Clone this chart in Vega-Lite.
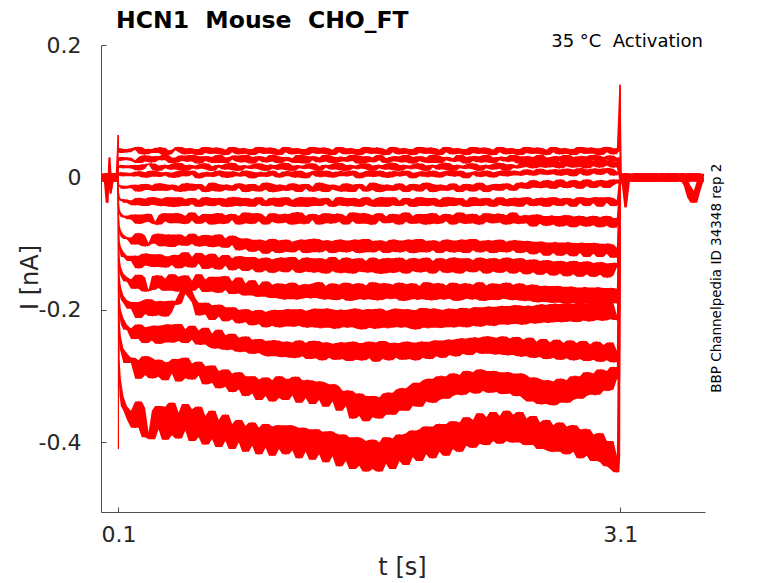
{
  "$schema": "https://vega.github.io/schema/vega-lite/v6.json",
  "width": 604,
  "height": 467,
  "autosize": {"type": "none"},
  "padding": {"left": 101, "top": 45, "right": 73, "bottom": 71},
  "background": "white",
  "config": {"view": {"stroke": null}, "font": "DejaVu Sans"},
  "datasets": {
    "traces": [
        {"t":0,"a":3,"b":-4,"c":2,"d":-2,"e":5,"f":-5,"g":1,"h":-3,"i":4,"j":-1,"k":2,"l":-6,"m":3,"n":0},
        {"t":0.012,"a":-5,"b":3,"c":-2,"d":6,"e":-3,"f":2,"g":-6,"h":4,"i":-2,"j":5,"k":-4,"l":1,"m":-1,"n":4},
        {"t":0.024,"a":4,"b":-2,"c":5,"d":-5,"e":1,"f":6,"g":3,"h":-6,"i":2,"j":-3,"k":6,"l":-2,"m":5,"n":-5},
        {"t":0.036,"a":-3,"b":6,"c":-38,"d":3,"e":-6,"f":-1,"g":-4,"h":2,"i":-5,"j":4,"k":-1,"l":5,"m":-4,"n":2},
        {"t":0.04,"a":5,"b":-5,"c":4,"d":-3,"e":2,"f":4,"g":6,"h":-4,"i":5,"j":-6,"k":3,"l":-3,"m":2,"n":-3},
        {"t":0.048,"a":-2,"b":2,"c":-3,"d":5,"e":30,"f":-5,"g":-2,"h":5,"i":-3,"j":2,"k":-5,"l":4,"m":-6,"n":5},
        {"t":0.052,"a":4,"b":-6,"c":2,"d":-4,"e":-20,"f":3,"g":-24,"h":-2,"i":6,"j":-4,"k":4,"l":-5,"m":3,"n":-2},
        {"t":0.06,"a":-6,"b":4,"c":-5,"d":2,"e":4,"f":-3,"g":5,"h":3,"i":-4,"j":6,"k":-2,"l":2,"m":-5,"n":4},
        {"t":0.072,"a":2,"b":-3,"c":6,"d":-6,"e":-5,"f":5,"g":-3,"h":-5,"i":3,"j":-2,"k":5,"l":-4,"m":6,"n":-6},
        {"t":0.084,"a":-4,"b":5,"c":-1,"d":4,"e":3,"f":-6,"g":2,"h":6,"i":-6,"j":3,"k":-3,"l":6,"m":-2,"n":3},
        {"t":0.095,"a":5,"b":-2,"c":3,"d":-3,"e":-4,"f":2,"g":-5,"h":-1,"i":4,"j":-5,"k":6,"l":-3,"m":4,"n":-4},
        {"t":0.0995,"a":64,"b":8,"c":-6,"d":5,"e":-4,"f":6,"g":-8,"h":3,"i":-5,"j":7,"k":-3,"l":4,"m":-7,"n":10},
        {"t":0.1,"a":45,"b":20,"c":10,"d":2,"e":-5,"f":-12,"g":-20,"h":-30,"i":-40,"j":-50,"k":-60,"l":-70,"m":-85,"n":-410},
        {"t":0.101,"a":42,"b":26,"c":14,"d":4,"e":-9,"f":-22,"g":-37,"h":-56,"i":-72,"j":-92,"k":-113,"l":-135,"m":-165,"n":-180},
        {"t":0.103,"a":38,"b":30,"c":18,"d":7,"e":-12,"f":-29,"g":-48,"h":-72,"i":-95,"j":-120,"k":-148,"l":-180,"m":-215,"n":-275},
        {"t":0.107,"a":44,"b":25,"c":15,"d":3,"e":-14,"f":-32,"g":-53,"h":-80,"i":-105,"j":-135,"k":-165,"l":-200,"m":-240,"n":-305},
        {"t":0.115,"a":37,"b":31,"c":19,"d":8,"e":-12,"f":-35,"g":-57,"h":-86,"i":-112,"j":-145,"k":-178,"l":-212,"m":-258,"n":-330},
        {"t":0.13,"a":43,"b":26,"c":14,"d":2,"e":-17,"f":-33,"g":-60,"h":-90,"i":-120,"j":-150,"k":-185,"l":-222,"m":-265,"n":-345},
        {"t":0.15,"a":38,"b":30,"c":18,"d":7,"e":-13,"f":-38,"g":-58,"h":-93,"i":-118,"j":-157,"k":-190,"l":-230,"m":-280,"n":-352},
        {"t":0.175,"a":42,"b":26,"c":14,"d":3,"e":-16,"f":-35,"g":-63,"h":-91,"i":-126,"j":-154,"k":-198,"l":-228,"m":-272,"n":-365},
        {"t":0.2,"a":44,"b":25,"c":19,"d":2,"e":-11,"f":-42,"g":-56,"h":-101,"i":-118,"j":-168,"k":-188,"l":-244,"m":-276,"n":-378},
        {"t":0.22,"a":46,"b":22,"c":11,"d":9,"e":-21,"f":-31,"g":-70,"h":-84,"i":-137,"j":-147,"k":-212,"l":-222,"m":-304,"n":-338},
        {"t":0.24,"a":36,"b":31,"c":13,"d":8,"e":-19,"f":-32,"g":-68,"h":-88,"i":-133,"j":-151,"k":-206,"l":-226,"m":-298,"n":-348},
        {"t":0.26,"a":35,"b":33,"c":20,"d":0,"e":-10,"f":-43,"g":-56,"h":-104,"i":-115,"j":-172,"k":-186,"l":-250,"m":-270,"n":-392},
        {"t":0.28,"a":43,"b":24,"c":20,"d":1,"e":-12,"f":-41,"g":-55,"h":-99,"i":-116,"j":-170,"k":-184,"l":-246,"m":-272,"n":-385},
        {"t":0.3,"a":40,"b":23,"c":21,"d":10,"e":-19,"f":-30,"g":-67,"h":-100,"i":-134,"j":-170,"k":-209,"l":-225,"m":-303,"n":-395},
        {"t":0.32,"a":37,"b":32,"c":12,"d":9,"e":-20,"f":-31,"g":-70,"h":-87,"i":-135,"j":-149,"k":-208,"l":-224,"m":-301,"n":-352},
        {"t":0.34,"a":45,"b":31,"c":10,"d":1,"e":-9,"f":-42,"g":-71,"h":-85,"i":-116,"j":-148,"k":-187,"l":-251,"m":-275,"n":-345},
        {"t":0.36,"a":45,"b":26,"c":18,"d":3,"e":-10,"f":-43,"g":-57,"h":-104,"i":-119,"j":-167,"k":-187,"l":-249,"m":-279,"n":-380},
        {"t":0.38,"a":34,"b":34,"c":19,"d":8,"e":-20,"f":-32,"g":-54,"h":-90,"i":-136,"j":-171,"k":-210,"l":-223,"m":-306,"n":-396},
        {"t":0.4,"a":35,"b":30,"c":14,"d":7,"e":-18,"f":-30,"g":-66,"h":-86,"i":-132,"j":-153,"k":-204,"l":-222,"m":-296,"n":-346},
        {"t":0.42,"a":41,"b":22,"c":12,"d":0,"e":-11,"f":-44,"g":-69,"h":-105,"i":-119,"j":-146,"k":-186,"l":-249,"m":-278,"n":-340},
        {"t":0.44,"a":42,"b":23,"c":21,"d":0,"e":-13,"f":-44,"g":-54,"h":-102,"i":-117,"j":-171,"k":-192,"l":-247,"m":-274,"n":-389},
        {"t":0.46,"a":46,"b":30,"c":22,"d":9,"e":-21,"f":-30,"g":-55,"h":-86,"i":-137,"j":-172,"k":-190,"l":-221,"m":-308,"n":-394},
        {"t":0.48,"a":38,"b":33,"c":11,"d":10,"e":-21,"f":-33,"g":-69,"h":-90,"i":-134,"j":-150,"k":-176,"l":-229,"m":-303,"n":-355},
        {"t":0.5,"a":35,"b":25,"c":10,"d":2,"e":-9,"f":-43,"g":-70,"h":-103,"i":-113,"j":-148,"k":-165,"l":-250,"m":-272,"n":-342},
        {"t":0.52,"a":44,"b":24,"c":19,"d":4,"e":-9,"f":-40,"g":-58,"h":-100,"i":-120,"j":-169,"k":-170,"l":-245,"m":-281,"n":-382},
        {"t":0.54,"a":43,"b":34,"c":18,"d":10,"e":-20,"f":-31,"g":-53,"h":-85,"i":-136,"j":-171,"k":-182,"l":-224,"m":-305,"n":-398},
        {"t":0.56,"a":36,"b":32,"c":13,"d":6,"e":-17,"f":-34,"g":-65,"h":-89,"i":-130,"j":-156,"k":-189,"l":-231,"m":-299,"n":-350},
        {"t":0.58,"a":34,"b":21,"c":13,"d":-1,"e":-10,"f":-44,"g":-70,"h":-104,"i":-114,"j":-146,"k":-208,"l":-252,"m":-278,"n":-346},
        {"t":0.6,"a":43,"b":25,"c":20,"d":1,"e":-14,"f":-42,"g":-59,"h":-103,"i":-118,"j":-166,"k":-207,"l":-252,"m":-285,"n":-392},
        {"t":0.62,"a":46,"b":32,"c":21,"d":8,"e":-22,"f":-30,"g":-55,"h":-87,"i":-138,"j":-173,"k":-189,"l":-227,"m":-312,"n":-403},
        {"t":0.64,"a":37,"b":31,"c":12,"d":8,"e":-20,"f":-31,"g":-67,"h":-88,"i":-136,"j":-154,"k":-193,"l":-236,"m":-310,"n":-360},
        {"t":0.66,"a":36,"b":23,"c":10,"d":1,"e":-8,"f":-43,"g":-71,"h":-105,"i":-115,"j":-150,"k":-215,"l":-256,"m":-284,"n":-352},
        {"t":0.68,"a":45,"b":22,"c":17,"d":3,"e":-10,"f":-41,"g":-55,"h":-104,"i":-121,"j":-172,"k":-210,"l":-258,"m":-292,"n":-395},
        {"t":0.7,"a":44,"b":34,"c":19,"d":10,"e":-21,"f":-31,"g":-54,"h":-86,"i":-139,"j":-174,"k":-192,"l":-230,"m":-318,"n":-407},
        {"t":0.72,"a":35,"b":30,"c":15,"d":9,"e":-19,"f":-32,"g":-70,"h":-92,"i":-133,"j":-150,"k":-196,"l":-238,"m":-316,"n":-366},
        {"t":0.74,"a":34,"b":22,"c":12,"d":0,"e":-11,"f":-44,"g":-69,"h":-106,"i":-117,"j":-149,"k":-217,"l":-260,"m":-290,"n":-358},
        {"t":0.76,"a":42,"b":27,"c":21,"d":0,"e":-12,"f":-44,"g":-57,"h":-102,"i":-122,"j":-170,"k":-214,"l":-260,"m":-296,"n":-398},
        {"t":0.78,"a":46,"b":31,"c":22,"d":9,"e":-20,"f":-30,"g":-55,"h":-88,"i":-140,"j":-176,"k":-196,"l":-236,"m":-324,"n":-410},
        {"t":0.8,"a":38,"b":33,"c":11,"d":7,"e":-16,"f":-30,"g":-64,"h":-91,"i":-137,"j":-157,"k":-200,"l":-242,"m":-320,"n":-372},
        {"t":0.82,"a":35,"b":24,"c":10,"d":2,"e":-9,"f":-43,"g":-71,"h":-110,"i":-119,"j":-151,"k":-220,"l":-263,"m":-294,"n":-366},
        {"t":0.84,"a":44,"b":23,"c":18,"d":2,"e":-11,"f":-43,"g":-58,"h":-108,"i":-120,"j":-175,"k":-218,"l":-263,"m":-300,"n":-400},
        {"t":0.86,"a":43,"b":34,"c":18,"d":10,"e":-22,"f":-31,"g":-53,"h":-92,"i":-141,"j":-178,"k":-199,"l":-240,"m":-330,"n":-414},
        {"t":0.88,"a":36,"b":31,"c":14,"d":9,"e":-20,"f":-33,"g":-69,"h":-94,"i":-138,"j":-160,"k":-202,"l":-245,"m":-326,"n":-375},
        {"t":0.9,"a":34,"b":21,"c":13,"d":-1,"e":-10,"f":-44,"g":-70,"h":-112,"i":-120,"j":-155,"k":-223,"l":-266,"m":-300,"n":-370},
        {"t":0.92,"a":43,"b":26,"c":20,"d":1,"e":-13,"f":-40,"g":-54,"h":-110,"i":-123,"j":-178,"k":-221,"l":-265,"m":-305,"n":-405},
        {"t":0.94,"a":46,"b":32,"c":21,"d":8,"e":-21,"f":-30,"g":-55,"h":-94,"i":-143,"j":-180,"k":-200,"l":-244,"m":-336,"n":-418},
        {"t":0.96,"a":37,"b":30,"c":12,"d":8,"e":-18,"f":-35,"g":-66,"h":-96,"i":-140,"j":-163,"k":-203,"l":-247,"m":-330,"n":-378},
        {"t":0.98,"a":36,"b":23,"c":10,"d":1,"e":-8,"f":-43,"g":-71,"h":-115,"i":-121,"j":-157,"k":-226,"l":-268,"m":-302,"n":-372},
        {"t":1.0,"a":45,"b":24,"c":19,"d":3,"e":-9,"f":-42,"g":-60,"h":-111,"i":-124,"j":-180,"k":-224,"l":-270,"m":-306,"n":-408},
        {"t":1.02,"a":44,"b":34,"c":19,"d":10,"e":-22,"f":-31,"g":-54,"h":-93,"i":-144,"j":-182,"k":-201,"l":-246,"m":-338,"n":-420},
        {"t":1.04,"a":35,"b":32,"c":13,"d":6,"e":-21,"f":-31,"g":-67,"h":-95,"i":-141,"j":-162,"k":-200,"l":-246,"m":-333,"n":-376},
        {"t":1.06,"a":34,"b":22,"c":12,"d":0,"e":-11,"f":-44,"g":-69,"h":-114,"i":-122,"j":-160,"k":-226,"l":-270,"m":-300,"n":-374},
        {"t":1.08,"a":42,"b":25,"c":21,"d":2,"e":-12,"f":-41,"g":-56,"h":-112,"i":-121,"j":-183,"k":-225,"l":-271,"m":-304,"n":-410},
        {"t":1.1,"a":46,"b":31,"c":22,"d":9,"e":-20,"f":-30,"g":-55,"h":-94,"i":-143,"j":-184,"k":-200,"l":-248,"m":-336,"n":-418},
        {"t":1.12,"a":38,"b":29,"c":11,"d":9,"e":-19,"f":-34,"g":-68,"h":-97,"i":-139,"j":-161,"k":-199,"l":-249,"m":-329,"n":-374},
        {"t":1.14,"a":35,"b":24,"c":10,"d":2,"e":-9,"f":-43,"g":-71,"h":-113,"i":-120,"j":-159,"k":-225,"l":-272,"m":-304,"n":-376},
        {"t":1.16,"a":44,"b":22,"c":18,"d":0,"e":-11,"f":-44,"g":-53,"h":-109,"i":-125,"j":-184,"k":-224,"l":-272,"m":-301,"n":-412},
        {"t":1.18,"a":43,"b":34,"c":18,"d":10,"e":-22,"f":-31,"g":-53,"h":-95,"i":-144,"j":-183,"k":-199,"l":-246,"m":-340,"n":-424},
        {"t":1.2,"a":36,"b":33,"c":14,"d":7,"e":-17,"f":-30,"g":-70,"h":-94,"i":-142,"j":-163,"k":-201,"l":-250,"m":-333,"n":-378},
        {"t":1.22,"a":34,"b":21,"c":13,"d":-1,"e":-10,"f":-44,"g":-70,"h":-114,"i":-121,"j":-161,"k":-226,"l":-270,"m":-306,"n":-380},
        {"t":1.24,"a":43,"b":26,"c":20,"d":4,"e":-14,"f":-43,"g":-58,"h":-113,"i":-122,"j":-182,"k":-226,"l":-274,"m":-306,"n":-414},
        {"t":1.26,"a":46,"b":32,"c":21,"d":8,"e":-21,"f":-30,"g":-55,"h":-93,"i":-143,"j":-182,"k":-200,"l":-247,"m":-342,"n":-426},
        {"t":1.28,"a":37,"b":30,"c":12,"d":10,"e":-20,"f":-32,"g":-64,"h":-93,"i":-143,"j":-160,"k":-198,"l":-247,"m":-336,"n":-380},
        {"t":1.3,"a":36,"b":23,"c":10,"d":1,"e":-8,"f":-43,"g":-71,"h":-113,"i":-122,"j":-158,"k":-227,"l":-273,"m":-308,"n":-384},
        {"t":1.32,"a":45,"b":24,"c":17,"d":1,"e":-10,"f":-40,"g":-57,"h":-110,"i":-124,"j":-183,"k":-227,"l":-276,"m":-310,"n":-418},
        {"t":1.34,"a":44,"b":34,"c":19,"d":10,"e":-22,"f":-31,"g":-54,"h":-95,"i":-145,"j":-184,"k":-198,"l":-249,"m":-346,"n":-430},
        {"t":1.36,"a":35,"b":32,"c":15,"d":8,"e":-18,"f":-36,"g":-69,"h":-96,"i":-141,"j":-164,"k":-199,"l":-251,"m":-338,"n":-383},
        {"t":1.38,"a":34,"b":22,"c":12,"d":0,"e":-11,"f":-44,"g":-69,"h":-114,"i":-120,"j":-160,"k":-227,"l":-272,"m":-312,"n":-386},
        {"t":1.4,"a":42,"b":23,"c":21,"d":2,"e":-13,"f":-42,"g":-55,"h":-112,"i":-125,"j":-185,"k":-228,"l":-275,"m":-315,"n":-421},
        {"t":1.42,"a":46,"b":31,"c":22,"d":9,"e":-20,"f":-30,"g":-55,"h":-94,"i":-144,"j":-183,"k":-200,"l":-250,"m":-352,"n":-436},
        {"t":1.44,"a":38,"b":31,"c":11,"d":9,"e":-21,"f":-31,"g":-67,"h":-95,"i":-144,"j":-162,"k":-200,"l":-249,"m":-345,"n":-388},
        {"t":1.46,"a":35,"b":24,"c":10,"d":2,"e":-9,"f":-43,"g":-71,"h":-113,"i":-121,"j":-159,"k":-226,"l":-274,"m":-322,"n":-392},
        {"t":1.48,"a":44,"b":25,"c":19,"d":3,"e":-11,"f":-43,"g":-59,"h":-111,"i":-123,"j":-186,"k":-226,"l":-277,"m":-322,"n":-428},
        {"t":1.5,"a":43,"b":34,"c":18,"d":10,"e":-22,"f":-31,"g":-53,"h":-95,"i":-145,"j":-185,"k":-199,"l":-248,"m":-364,"n":-440},
        {"t":1.52,"a":36,"b":33,"c":13,"d":7,"e":-16,"f":-33,"g":-66,"h":-94,"i":-142,"j":-161,"k":-198,"l":-250,"m":-360,"n":-392},
        {"t":1.54,"a":34,"b":21,"c":13,"d":-1,"e":-10,"f":-44,"g":-70,"h":-114,"i":-122,"j":-160,"k":-228,"l":-275,"m":-326,"n":-394},
        {"t":1.56,"a":43,"b":22,"c":20,"d":1,"e":-14,"f":-41,"g":-54,"h":-113,"i":-126,"j":-184,"k":-229,"l":-276,"m":-330,"n":-435},
        {"t":1.58,"a":46,"b":32,"c":21,"d":8,"e":-21,"f":-30,"g":-55,"h":-93,"i":-143,"j":-184,"k":-200,"l":-250,"m":-368,"n":-444},
        {"t":1.6,"a":37,"b":30,"c":12,"d":10,"e":-19,"f":-34,"g":-70,"h":-96,"i":-143,"j":-163,"k":-199,"l":-248,"m":-362,"n":-398},
        {"t":1.62,"a":36,"b":23,"c":10,"d":1,"e":-8,"f":-43,"g":-71,"h":-113,"i":-121,"j":-158,"k":-227,"l":-273,"m":-330,"n":-396},
        {"t":1.64,"a":45,"b":26,"c":18,"d":2,"e":-10,"f":-44,"g":-57,"h":-110,"i":-124,"j":-185,"k":-228,"l":-278,"m":-332,"n":-440},
        {"t":1.66,"a":44,"b":34,"c":19,"d":10,"e":-22,"f":-31,"g":-54,"h":-95,"i":-145,"j":-185,"k":-198,"l":-249,"m":-364,"n":-444},
        {"t":1.68,"a":35,"b":29,"c":14,"d":8,"e":-20,"f":-30,"g":-65,"h":-97,"i":-145,"j":-160,"k":-201,"l":-247,"m":-358,"n":-400},
        {"t":1.7,"a":34,"b":22,"c":12,"d":0,"e":-11,"f":-44,"g":-69,"h":-114,"i":-122,"j":-160,"k":-227,"l":-274,"m":-326,"n":-392},
        {"t":1.72,"a":42,"b":24,"c":21,"d":0,"e":-12,"f":-42,"g":-59,"h":-112,"i":-122,"j":-183,"k":-227,"l":-276,"m":-325,"n":-432},
        {"t":1.74,"a":46,"b":31,"c":22,"d":9,"e":-20,"f":-30,"g":-55,"h":-94,"i":-144,"j":-183,"k":-200,"l":-250,"m":-358,"n":-440},
        {"t":1.76,"a":38,"b":32,"c":11,"d":9,"e":-18,"f":-35,"g":-68,"h":-95,"i":-142,"j":-162,"k":-198,"l":-250,"m":-352,"n":-394},
        {"t":1.78,"a":35,"b":24,"c":10,"d":2,"e":-9,"f":-43,"g":-71,"h":-113,"i":-121,"j":-159,"k":-226,"l":-272,"m":-320,"n":-388},
        {"t":1.8,"a":44,"b":23,"c":19,"d":3,"e":-13,"f":-40,"g":-56,"h":-111,"i":-125,"j":-186,"k":-226,"l":-275,"m":-318,"n":-428},
        {"t":1.82,"a":43,"b":34,"c":18,"d":10,"e":-22,"f":-31,"g":-53,"h":-95,"i":-145,"j":-185,"k":-199,"l":-248,"m":-352,"n":-434},
        {"t":1.84,"a":36,"b":31,"c":13,"d":7,"e":-19,"f":-33,"g":-67,"h":-94,"i":-141,"j":-161,"k":-200,"l":-249,"m":-345,"n":-386},
        {"t":1.86,"a":34,"b":21,"c":13,"d":-1,"e":-10,"f":-44,"g":-70,"h":-114,"i":-122,"j":-160,"k":-228,"l":-274,"m":-314,"n":-382},
        {"t":1.88,"a":43,"b":25,"c":20,"d":2,"e":-11,"f":-43,"g":-58,"h":-113,"i":-123,"j":-184,"k":-229,"l":-276,"m":-310,"n":-422},
        {"t":1.9,"a":46,"b":32,"c":21,"d":8,"e":-21,"f":-30,"g":-55,"h":-93,"i":-143,"j":-184,"k":-200,"l":-249,"m":-346,"n":-428},
        {"t":1.92,"a":37,"b":30,"c":12,"d":9,"e":-17,"f":-31,"g":-69,"h":-96,"i":-142,"j":-164,"k":-197,"l":-248,"m":-338,"n":-380},
        {"t":1.94,"a":36,"b":23,"c":10,"d":1,"e":-8,"f":-43,"g":-71,"h":-113,"i":-121,"j":-158,"k":-227,"l":-272,"m":-306,"n":-376},
        {"t":1.96,"a":45,"b":22,"c":18,"d":1,"e":-10,"f":-42,"g":-55,"h":-110,"i":-126,"j":-185,"k":-227,"l":-274,"m":-304,"n":-418},
        {"t":1.98,"a":44,"b":34,"c":19,"d":10,"e":-22,"f":-31,"g":-54,"h":-95,"i":-145,"j":-185,"k":-198,"l":-248,"m":-340,"n":-424},
        {"t":2.0,"a":35,"b":33,"c":15,"d":8,"e":-20,"f":-34,"g":-70,"h":-97,"i":-140,"j":-160,"k":-199,"l":-246,"m":-336,"n":-376},
        {"t":2.02,"a":34,"b":22,"c":12,"d":0,"e":-11,"f":-44,"g":-69,"h":-114,"i":-122,"j":-160,"k":-227,"l":-270,"m":-300,"n":-372},
        {"t":2.04,"a":42,"b":26,"c":21,"d":3,"e":-12,"f":-44,"g":-58,"h":-111,"i":-124,"j":-184,"k":-226,"l":-272,"m":-300,"n":-414},
        {"t":2.06,"a":46,"b":31,"c":22,"d":9,"e":-20,"f":-30,"g":-55,"h":-94,"i":-144,"j":-183,"k":-200,"l":-246,"m":-334,"n":-420},
        {"t":2.08,"a":38,"b":29,"c":11,"d":10,"e":-18,"f":-30,"g":-66,"h":-95,"i":-143,"j":-163,"k":-198,"l":-245,"m":-330,"n":-372},
        {"t":2.1,"a":35,"b":24,"c":10,"d":2,"e":-9,"f":-43,"g":-71,"h":-113,"i":-121,"j":-159,"k":-226,"l":-268,"m":-296,"n":-368},
        {"t":2.12,"a":44,"b":24,"c":19,"d":2,"e":-13,"f":-41,"g":-57,"h":-112,"i":-122,"j":-186,"k":-225,"l":-270,"m":-298,"n":-410},
        {"t":2.14,"a":43,"b":34,"c":18,"d":10,"e":-22,"f":-31,"g":-53,"h":-95,"i":-145,"j":-185,"k":-199,"l":-244,"m":-328,"n":-414},
        {"t":2.16,"a":36,"b":31,"c":14,"d":7,"e":-19,"f":-35,"g":-68,"h":-94,"i":-141,"j":-161,"k":-197,"l":-243,"m":-328,"n":-370},
        {"t":2.18,"a":34,"b":21,"c":13,"d":-1,"e":-10,"f":-44,"g":-70,"h":-114,"i":-122,"j":-160,"k":-226,"l":-266,"m":-292,"n":-362},
        {"t":2.2,"a":43,"b":25,"c":20,"d":4,"e":-11,"f":-43,"g":-56,"h":-110,"i":-125,"j":-183,"k":-224,"l":-268,"m":-294,"n":-405},
        {"t":2.22,"a":46,"b":32,"c":21,"d":8,"e":-21,"f":-30,"g":-55,"h":-93,"i":-143,"j":-184,"k":-198,"l":-242,"m":-324,"n":-408},
        {"t":2.24,"a":37,"b":32,"c":12,"d":9,"e":-18,"f":-32,"g":-69,"h":-96,"i":-140,"j":-162,"k":-196,"l":-242,"m":-326,"n":-366},
        {"t":2.26,"a":36,"b":23,"c":10,"d":1,"e":-8,"f":-43,"g":-71,"h":-113,"i":-121,"j":-158,"k":-225,"l":-264,"m":-290,"n":-356},
        {"t":2.28,"a":45,"b":23,"c":18,"d":2,"e":-12,"f":-42,"g":-58,"h":-111,"i":-123,"j":-186,"k":-223,"l":-266,"m":-292,"n":-402},
        {"t":2.3,"a":44,"b":34,"c":19,"d":10,"e":-22,"f":-31,"g":-54,"h":-95,"i":-145,"j":-185,"k":-196,"l":-240,"m":-322,"n":-404},
        {"t":2.32,"a":35,"b":30,"c":14,"d":8,"e":-19,"f":-34,"g":-67,"h":-95,"i":-142,"j":-163,"k":-195,"l":-241,"m":-325,"n":-362},
        {"t":2.34,"a":34,"b":22,"c":12,"d":0,"e":-11,"f":-44,"g":-69,"h":-114,"i":-122,"j":-160,"k":-224,"l":-266,"m":-292,"n":-354},
        {"t":2.36,"a":42,"b":26,"c":21,"d":3,"e":-10,"f":-41,"g":-55,"h":-112,"i":-124,"j":-185,"k":-222,"l":-267,"m":-294,"n":-398},
        {"t":2.38,"a":46,"b":31,"c":22,"d":9,"e":-20,"f":-30,"g":-55,"h":-94,"i":-144,"j":-183,"k":-195,"l":-242,"m":-324,"n":-402},
        {"t":2.4,"a":38,"b":31,"c":13,"d":10,"e":-17,"f":-33,"g":-68,"h":-97,"i":-141,"j":-161,"k":-194,"l":-240,"m":-327,"n":-360},
        {"t":2.42,"a":35,"b":24,"c":10,"d":2,"e":-9,"f":-43,"g":-71,"h":-113,"i":-121,"j":-159,"k":-222,"l":-268,"m":-294,"n":-352},
        {"t":2.44,"a":44,"b":24,"c":20,"d":3,"e":-12,"f":-43,"g":-57,"h":-110,"i":-123,"j":-184,"k":-221,"l":-268,"m":-296,"n":-398},
        {"t":2.46,"a":43,"b":34,"c":18,"d":10,"e":-20,"f":-31,"g":-53,"h":-95,"i":-145,"j":-185,"k":-194,"l":-243,"m":-326,"n":-400},
        {"t":2.48,"a":36,"b":32,"c":14,"d":9,"e":-16,"f":-31,"g":-69,"h":-95,"i":-142,"j":-162,"k":-193,"l":-241,"m":-330,"n":-358},
        {"t":2.5,"a":34,"b":21,"c":15,"d":3,"e":-8,"f":-44,"g":-70,"h":-114,"i":-122,"j":-160,"k":-221,"l":-270,"m":-296,"n":-354},
        {"t":2.52,"a":43,"b":25,"c":22,"d":4,"e":-8,"f":-40,"g":-58,"h":-112,"i":-125,"j":-186,"k":-222,"l":-270,"m":-298,"n":-400},
        {"t":2.54,"a":46,"b":32,"c":25,"d":12,"e":-17,"f":-30,"g":-57,"h":-96,"i":-146,"j":-186,"k":-194,"l":-245,"m":-334,"n":-404},
        {"t":2.56,"a":37,"b":31,"c":16,"d":10,"e":-15,"f":-33,"g":-69,"h":-97,"i":-143,"j":-163,"k":-194,"l":-242,"m":-338,"n":-364},
        {"t":2.58,"a":36,"b":23,"c":14,"d":3,"e":-4,"f":-43,"g":-74,"h":-116,"i":-124,"j":-162,"k":-220,"l":-272,"m":-302,"n":-360},
        {"t":2.6,"a":45,"b":23,"c":23,"d":5,"e":-7,"f":-42,"g":-56,"h":-113,"i":-126,"j":-188,"k":-220,"l":-271,"m":-304,"n":-404},
        {"t":2.62,"a":44,"b":34,"c":26,"d":13,"e":-16,"f":-31,"g":-58,"h":-97,"i":-147,"j":-188,"k":-192,"l":-248,"m":-342,"n":-410},
        {"t":2.64,"a":35,"b":30,"c":16,"d":11,"e":-15,"f":-31,"g":-70,"h":-98,"i":-144,"j":-164,"k":-192,"l":-244,"m":-342,"n":-370},
        {"t":2.66,"a":34,"b":22,"c":15,"d":4,"e":-4,"f":-44,"g":-73,"h":-118,"i":-125,"j":-164,"k":-219,"l":-274,"m":-306,"n":-366},
        {"t":2.68,"a":42,"b":26,"c":24,"d":5,"e":-6,"f":-41,"g":-58,"h":-114,"i":-127,"j":-188,"k":-219,"l":-272,"m":-308,"n":-412},
        {"t":2.7,"a":46,"b":31,"c":26,"d":12,"e":-17,"f":-30,"g":-58,"h":-98,"i":-148,"j":-189,"k":-191,"l":-249,"m":-344,"n":-414},
        {"t":2.72,"a":38,"b":32,"c":16,"d":12,"e":-14,"f":-32,"g":-71,"h":-98,"i":-145,"j":-164,"k":-191,"l":-245,"m":-340,"n":-374},
        {"t":2.74,"a":35,"b":24,"c":14,"d":3,"e":-3,"f":-43,"g":-74,"h":-118,"i":-126,"j":-165,"k":-218,"l":-275,"m":-304,"n":-370},
        {"t":2.76,"a":44,"b":24,"c":23,"d":4,"e":-7,"f":-40,"g":-58,"h":-115,"i":-128,"j":-189,"k":-218,"l":-273,"m":-306,"n":-414},
        {"t":2.78,"a":43,"b":34,"c":25,"d":13,"e":-16,"f":-31,"g":-57,"h":-98,"i":-149,"j":-190,"k":-190,"l":-250,"m":-340,"n":-418},
        {"t":2.8,"a":36,"b":31,"c":17,"d":12,"e":-14,"f":-33,"g":-72,"h":-99,"i":-146,"j":-165,"k":-191,"l":-246,"m":-336,"n":-376},
        {"t":2.82,"a":34,"b":21,"c":15,"d":2,"e":-4,"f":-44,"g":-75,"h":-119,"i":-126,"j":-166,"k":-217,"l":-276,"m":-300,"n":-374},
        {"t":2.84,"a":43,"b":25,"c":24,"d":6,"e":-6,"f":-39,"g":-59,"h":-114,"i":-128,"j":-190,"k":-218,"l":-274,"m":-300,"n":-414},
        {"t":2.86,"a":46,"b":32,"c":26,"d":14,"e":-17,"f":-30,"g":-58,"h":-99,"i":-150,"j":-191,"k":-190,"l":-250,"m":-334,"n":-424},
        {"t":2.88,"a":37,"b":32,"c":16,"d":12,"e":-13,"f":-31,"g":-72,"h":-99,"i":-146,"j":-166,"k":-190,"l":-247,"m":-330,"n":-380},
        {"t":2.9,"a":36,"b":23,"c":14,"d":3,"e":-3,"f":-43,"g":-74,"h":-120,"i":-127,"j":-166,"k":-216,"l":-277,"m":-294,"n":-380},
        {"t":2.92,"a":45,"b":26,"c":24,"d":6,"e":-6,"f":-39,"g":-60,"h":-115,"i":-129,"j":-190,"k":-217,"l":-275,"m":-296,"n":-420},
        {"t":2.94,"a":44,"b":34,"c":25,"d":13,"e":-16,"f":-31,"g":-58,"h":-99,"i":-150,"j":-192,"k":-190,"l":-252,"m":-328,"n":-428},
        {"t":2.96,"a":36,"b":33,"c":17,"d":13,"e":-13,"f":-30,"g":-72,"h":-100,"i":-147,"j":-166,"k":-190,"l":-248,"m":-328,"n":-388},
        {"t":2.98,"a":34,"b":22,"c":15,"d":4,"e":-4,"f":-44,"g":-75,"h":-120,"i":-128,"j":-167,"k":-215,"l":-278,"m":-290,"n":-386},
        {"t":3.0,"a":44,"b":27,"c":25,"d":7,"e":-5,"f":-38,"g":-60,"h":-115,"i":-130,"j":-191,"k":-216,"l":-276,"m":-292,"n":-430},
        {"t":3.02,"a":46,"b":31,"c":26,"d":14,"e":-16,"f":-30,"g":-58,"h":-100,"i":-151,"j":-192,"k":-189,"l":-253,"m":-322,"n":-436},
        {"t":3.04,"a":38,"b":33,"c":18,"d":13,"e":-12,"f":-31,"g":-73,"h":-101,"i":-148,"j":-167,"k":-190,"l":-249,"m":-320,"n":-398},
        {"t":3.06,"a":35,"b":24,"c":15,"d":3,"e":-3,"f":-43,"g":-76,"h":-121,"i":-129,"j":-168,"k":-214,"l":-279,"m":-286,"n":-440},
        {"t":3.08,"a":44,"b":28,"c":24,"d":7,"e":-6,"f":-38,"g":-61,"h":-114,"i":-130,"j":-190,"k":-215,"l":-277,"m":-290,"n":-445},
        {"t":3.095,"a":40,"b":30,"c":20,"d":9,"e":-9,"f":-34,"g":-66,"h":-106,"i":-136,"j":-176,"k":-208,"l":-262,"m":-305,"n":-420},
        {"t":3.1,"a":140,"b":5,"c":-4,"d":6,"e":-3,"f":4,"g":-6,"h":2,"i":-5,"j":7,"k":-2,"l":3,"m":-8,"n":-6},
        {"t":3.102,"a":2,"b":-6,"c":5,"d":-3,"e":6,"f":-4,"g":3,"h":-7,"i":4,"j":-2,"k":6,"l":-5,"m":2,"n":5},
        {"t":3.11,"a":-4,"b":4,"c":-6,"d":5,"e":-2,"f":6,"g":-5,"h":3,"i":-6,"j":5,"k":-3,"l":4,"m":-6,"n":-2},
        {"t":3.125,"a":5,"b":-12,"c":3,"d":-5,"e":4,"f":-3,"g":6,"h":-4,"i":2,"j":-6,"k":5,"l":-2,"m":4,"n":3},
        {"t":3.13,"a":-3,"b":-45,"c":-4,"d":3,"e":-6,"f":5,"g":-2,"h":6,"i":-3,"j":4,"k":-6,"l":6,"m":-3,"n":-5},
        {"t":3.14,"a":6,"b":2,"c":5,"d":-6,"e":3,"f":-4,"g":5,"h":-3,"i":6,"j":-5,"k":2,"l":-4,"m":5,"n":4},
        {"t":3.16,"a":-5,"b":5,"c":-2,"d":4,"e":-5,"f":3,"g":-6,"h":5,"i":-4,"j":3,"k":-5,"l":3,"m":-2,"n":-6},
        {"t":3.18,"a":3,"b":-2,"c":5,"d":-5,"e":2,"f":-6,"g":4,"h":-2,"i":6,"j":-4,"k":3,"l":-5,"m":5,"n":1},
        {"t":3.2,"a":4,"b":-4,"c":6,"d":-2,"e":5,"f":-6,"g":3,"h":-5,"i":5,"j":-3,"k":6,"l":-6,"m":6,"n":2},
        {"t":3.22,"a":-5,"b":3,"c":-3,"d":6,"e":-6,"f":2,"g":-5,"h":6,"i":-4,"j":5,"k":-2,"l":4,"m":-6,"n":-3},
        {"t":3.24,"a":-6,"b":6,"c":-5,"d":5,"e":-3,"f":4,"g":-4,"h":4,"i":-2,"j":6,"k":-4,"l":5,"m":-5,"n":-4},
        {"t":3.26,"a":4,"b":-5,"c":2,"d":-4,"e":5,"f":-6,"g":6,"h":-3,"i":5,"j":-6,"k":5,"l":-2,"m":3,"n":5},
        {"t":3.28,"a":5,"b":-3,"c":4,"d":-6,"e":6,"f":-2,"g":6,"h":-6,"i":3,"j":-5,"k":3,"l":-3,"m":4,"n":6},
        {"t":3.3,"a":-4,"b":6,"c":-5,"d":2,"e":-4,"f":5,"g":-2,"h":4,"i":-6,"j":3,"k":-5,"l":6,"m":-3,"n":-5},
        {"t":3.32,"a":-3,"b":5,"c":-6,"d":3,"e":-5,"f":6,"g":-3,"h":5,"i":-6,"j":2,"k":-6,"l":4,"m":-4,"n":-3},
        {"t":3.34,"a":5,"b":-4,"c":4,"d":-5,"e":3,"f":-3,"g":5,"h":-5,"i":4,"j":-5,"k":4,"l":-5,"m":6,"n":3},
        {"t":3.36,"a":6,"b":-5,"c":3,"d":-4,"e":4,"f":-5,"g":5,"h":-2,"i":5,"j":-4,"k":4,"l":-6,"m":6,"n":5},
        {"t":3.38,"a":-5,"b":2,"c":-6,"d":5,"e":-3,"f":4,"g":-6,"h":3,"i":-5,"j":6,"k":-4,"l":2,"m":-4,"n":-6},
        {"t":3.4,"a":-4,"b":3,"c":-4,"d":6,"e":-6,"f":3,"g":-5,"h":6,"i":-3,"j":6,"k":-3,"l":3,"m":-5,"n":-5},
        {"t":3.42,"a":3,"b":-6,"c":5,"d":-2,"e":5,"f":-5,"g":3,"h":-6,"i":4,"j":-3,"k":6,"l":-4,"m":2,"n":4},
        {"t":3.44,"a":5,"b":-6,"c":6,"d":-3,"e":3,"f":-4,"g":4,"h":-4,"i":6,"j":-3,"k":5,"l":-5,"m":3,"n":4},
        {"t":3.46,"a":-6,"b":5,"c":-2,"d":4,"e":-5,"f":5,"g":-4,"h":5,"i":-4,"j":4,"k":-5,"l":5,"m":-5,"n":-4},
        {"t":3.48,"a":-5,"b":4,"c":-3,"d":5,"e":-4,"f":6,"g":-6,"h":3,"i":-5,"j":5,"k":-6,"l":6,"m":-6,"n":-2},
        {"t":3.5,"a":5,"b":-3,"c":4,"d":-6,"e":5,"f":-4,"g":5,"h":-4,"i":5,"j":-5,"k":4,"l":-3,"m":5,"n":-12},
        {"t":3.52,"a":4,"b":-5,"c":5,"d":-5,"e":6,"f":-3,"g":3,"h":-5,"i":4,"j":-6,"k":3,"l":-4,"m":5,"n":-30},
        {"t":3.54,"a":-3,"b":6,"c":-4,"d":4,"e":-5,"f":5,"g":-4,"h":6,"i":-3,"j":4,"k":-5,"l":5,"m":-3,"n":-38},
        {"t":3.56,"a":6,"b":-3,"c":6,"d":-6,"e":4,"f":-6,"g":5,"h":-3,"i":6,"j":-5,"k":6,"l":-3,"m":4,"n":-20},
        {"t":3.58,"a":-4,"b":5,"c":-3,"d":5,"e":-6,"f":3,"g":-4,"h":4,"i":-5,"j":4,"k":-6,"l":5,"m":-4,"n":-4},
        {"t":3.6,"a":-2,"b":4,"c":-5,"d":3,"e":-3,"f":4,"g":-6,"h":5,"i":-4,"j":3,"k":-4,"l":4,"m":-5,"n":3}
    ]
  },
  "layer": [
    {
      "data": {"name": "traces"},
      "transform": [
        {"fold": ["a","b","c","d","e","f","g","h","i","j","k","l","m","n"], "as": ["sweep","cur"]},
        {"window": [{"op": "min", "field": "cur", "as": "lo"}, {"op": "max", "field": "cur", "as": "hi"}],
         "frame": [-1, 1], "groupby": ["sweep"], "sort": [{"field": "t"}]}
      ],
      "mark": {"type": "area", "color": "#ff0000", "opacity": 1},
      "encoding": {
        "x": {"field": "t", "type": "quantitative",
          "scale": {"domain": [-0.004, 3.607], "nice": false, "zero": false},
          "axis": {"title": "t [s]", "values": [0.1, 3.1], "format": ".1f", "grid": false,
            "domainColor": "#4d4d4d", "tickColor": "#4d4d4d", "tickSize": -5, "labelPadding": 17,
            "labelFontSize": 22, "labelColor": "#262626", "labelFont": "DejaVu Sans",
            "titleFontSize": 24, "titleFontWeight": "normal", "titleColor": "#262626", "titleFont": "DejaVu Sans",
            "titleX": 301, "titleY": 55, "titleBaseline": "middle", "titleAlign": "center"}},
        "y": {"field": "lo", "type": "quantitative",
          "scale": {"domain": [-505, 200], "nice": false, "zero": false},
          "axis": {"title": "I [nA]", "values": [-400, -200, 0, 200],
            "labelExpr": "datum.value == 0 ? '0' : replace(format(datum.value / 1000, '.1f'), '\u2212', '-')", "grid": false,
            "domainColor": "#4d4d4d", "tickColor": "#4d4d4d", "tickSize": -5, "labelPadding": 25,
            "labelFontSize": 22, "labelColor": "#262626", "labelFont": "DejaVu Sans",
            "titleFontSize": 24, "titleFontWeight": "normal", "titleColor": "#262626", "titleFont": "DejaVu Sans",
            "titleX": -71, "titleY": 232, "titleBaseline": "middle", "titleAlign": "center", "titleAngle": 270}},
        "y2": {"field": "hi"},
        "detail": {"field": "sweep"}
      }
    },
    {
      "data": {"name": "traces"},
      "transform": [{"fold": ["a","b","c","d","e","f","g","h","i","j","k","l","m","n"], "as": ["sweep","cur"]}],
      "mark": {"type": "line", "color": "#ff0000", "strokeWidth": 1},
      "encoding": {
        "x": {"field": "t", "type": "quantitative"},
        "y": {"field": "cur", "type": "quantitative"},
        "detail": {"field": "sweep"}
      }
    },
    {
      "data": {"values": [{"label": "HCN1\u00a0 Mouse\u00a0 CHO_FT"}]},
      "mark": {"type": "text", "align": "left", "baseline": "alphabetic", "fontSize": 23.5, "fontWeight": "bold", "font": "DejaVu Sans", "color": "#000000"},
      "encoding": {
        "x": {"datum": 0.086, "type": "quantitative"},
        "y": {"datum": 226, "type": "quantitative"},
        "text": {"field": "label"}
      }
    },
    {
      "data": {"values": [{"label": "35 °C\u00a0 Activation"}]},
      "mark": {"type": "text", "align": "right", "baseline": "alphabetic", "fontSize": 18, "font": "DejaVu Sans", "color": "#000000"},
      "encoding": {
        "x": {"datum": 3.595, "type": "quantitative"},
        "y": {"datum": 197, "type": "quantitative"},
        "text": {"field": "label"}
      }
    },
    {
      "data": {"values": [{"label": "BBP Channelpedia ID 34348 rep 2"}]},
      "mark": {"type": "text", "align": "center", "baseline": "middle", "angle": 270, "fontSize": 13.5, "font": "DejaVu Sans", "color": "#000000"},
      "encoding": {
        "x": {"datum": 3.679, "type": "quantitative"},
        "y": {"datum": -152, "type": "quantitative"},
        "text": {"field": "label"}
      }
    }
  ]
}
